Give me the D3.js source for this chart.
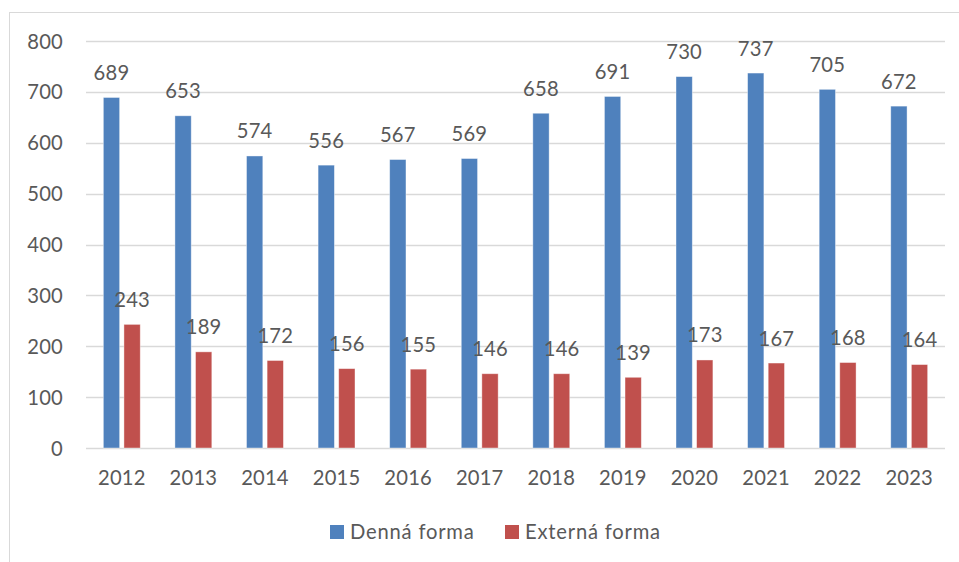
<!DOCTYPE html>
<html><head><meta charset="utf-8">
<script src="https://cdn.jsdelivr.net/npm/d3@7"></script>
<style>body{margin:0;background:#fff}svg{display:block}text{font-family:Lato,"Open Sans",sans-serif;fill:#595959}</style>
</head><body>
<script>
const years = ["2012","2013","2014","2015","2016","2017","2018","2019","2020","2021","2022","2023"];
const dennaForma = [689,653,574,556,567,569,658,691,730,737,705,672];
const externaForma = [243,189,172,156,155,146,146,139,173,167,168,164];
const seriesNames = ["Denná forma","Externá forma"];
const seriesColors = ["#4f81bd","#c0504d"];
const yTicks = [0,100,200,300,400,500,600,700,800];

const W=959,H=562, FS=20.2;
const svg=d3.select("body").append("svg").attr("width",W).attr("height",H);
svg.append("rect").attr("x",9.5).attr("y",12.5).attr("width",960).attr("height",560).attr("fill","none").attr("stroke","#d9d9d9");

const x=d3.scaleBand().domain(years).range([86,945]).paddingInner(0).paddingOuter(0);
const y=d3.scaleLinear().domain([0,800]).range([448,41]);
const barW=16.3, gap=4.3;

const g=svg.append("g");
g.selectAll("line.grid").data(yTicks).join("line").attr("class","grid")
 .attr("x1",86).attr("x2",945).attr("y1",d=>Math.round(y(d))+0.5).attr("y2",d=>Math.round(y(d))+0.5)
 .attr("stroke","#d9d9d9").attr("stroke-width",1.3);

const yAxis=d3.axisLeft(y).tickValues(yTicks).tickSize(0).tickPadding(0);
const ya=svg.append("g").attr("transform","translate(63,0)").call(yAxis);
ya.select(".domain").remove();
ya.selectAll("text").attr("font-size",FS).attr("fill","#595959").attr("dy","0.35em").style("font-family","Lato").style("letter-spacing","0.2px");

const xAxis=d3.axisBottom(x).tickSize(0).tickPadding(0);
const xa=svg.append("g").attr("transform","translate(0,471)").call(xAxis);
xa.select(".domain").remove();
xa.selectAll("text").attr("font-size",FS).attr("fill","#595959").attr("dy","0.71em").style("font-family","Lato").style("letter-spacing","0.2px");

const data=[dennaForma,externaForma];
data.forEach((vals,si)=>{
  const off = si===0 ? -gap/2-barW : gap/2;
  const gs=svg.append("g");
  gs.selectAll("rect").data(vals).join("rect")
    .attr("x",(d,i)=>x(years[i])+x.bandwidth()/2+off)
    .attr("y",d=>y(d)).attr("width",barW).attr("height",d=>y(0)-y(d))
    .attr("fill",seriesColors[si]).attr("stroke","#ffffff").attr("stroke-opacity",0.5).attr("stroke-width",0.8);
  gs.selectAll("text").data(vals).join("text")
    .attr("x",(d,i)=>x(years[i])+x.bandwidth()/2+off+barW/2)
    .attr("y",d=>y(d)-17.5).attr("text-anchor","middle")
    .attr("font-size",FS).attr("fill","#404040").style("letter-spacing","0.2px").text(d=>d);
});

const leg=svg.append("g");
const legX=[330,505];
seriesNames.forEach((n,i)=>{
  leg.append("rect").attr("x",legX[i]).attr("y",525).attr("width",14).attr("height",14).attr("fill",seriesColors[i]);
  leg.append("text").attr("x",legX[i]+20).attr("y",532).attr("dy","0.35em").attr("font-size",FS).attr("fill","#595959").style("letter-spacing","0.8px").text(n);
});
</script>
</body></html>
